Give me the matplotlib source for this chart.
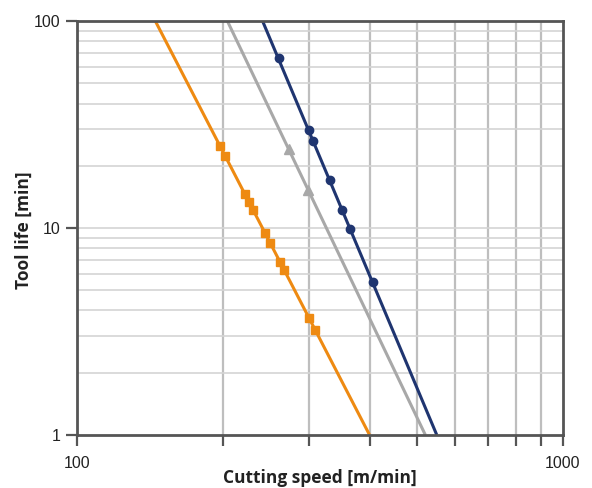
import matplotlib
matplotlib.use("Agg")
import matplotlib.pyplot as plt
from matplotlib.ticker import FixedLocator, NullFormatter, FixedFormatter

# Data
orange_speed = [197, 202, 222, 226, 230, 244, 250, 262, 267, 300, 309]
orange_life = [24.9, 22.3, 14.6, 13.4, 12.2, 9.46, 8.47, 6.85, 6.27, 3.67, 3.22]
orange_fit_speed = [145, 400]
orange_fit_life = [100, 1]

navy_speed = [260, 300, 306, 331, 351, 365, 406]
navy_life = [66.3, 29.7, 26.3, 17.1, 12.2, 9.9, 5.48]
navy_fit_speed = [241, 550]
navy_fit_life = [100, 1]

gray_speed = [273, 299]
gray_life = [24.1, 15.3]
gray_fit_speed = [204, 521]
gray_fit_life = [100, 1]

x_major = [100, 1000]
x_minor = [200, 300, 400, 500, 600, 700, 800, 900]
y_major = [1, 10, 100]
y_minor = [2, 3, 4, 5, 6, 7, 8, 9, 20, 30, 40, 50, 60, 70, 80, 90]

ORANGE = "#EE8A12"
NAVY = "#1F3570"
GRAY = "#A8A8A8"
SPINE = "#555555"

plt.rcParams['font.family'] = ['Open Sans', 'DejaVu Sans']

fig = plt.figure(figsize=(5.92, 4.88), dpi=100)
ax = fig.add_axes([0.130, 0.1086, 0.821, 0.848])
ax.set_xscale('log')
ax.set_yscale('log')
ax.set_xlim(100, 1000)
ax.set_ylim(1, 100)

# grid
for v in x_minor:
    ax.axvline(v, color="#BEBEBE", lw=1.6, zorder=1)
for v in y_minor:
    ax.axhline(v, color="#D4D4D4", lw=1.2, zorder=1)
ax.axhline(10, color="#D4D4D4", lw=1.2, zorder=1)

# lines
ax.plot(orange_fit_speed, orange_fit_life, color=ORANGE, lw=2.2, zorder=3, solid_capstyle='butt')
ax.plot(orange_speed, orange_life, ls='none', marker='s', ms=5.5, color=ORANGE, zorder=4)
ax.plot(gray_fit_speed, gray_fit_life, color=GRAY, lw=2.2, zorder=3, solid_capstyle='butt')
ax.plot(gray_speed, gray_life, ls='none', marker='^', ms=6.5, color=GRAY, zorder=4)
ax.plot(navy_fit_speed, navy_fit_life, color=NAVY, lw=2.2, zorder=3, solid_capstyle='butt')
ax.plot(navy_speed, navy_life, ls='none', marker='o', ms=6, color=NAVY, zorder=4)

# ticks
ax.xaxis.set_major_locator(FixedLocator(x_major))
ax.xaxis.set_major_formatter(FixedFormatter([str(v) for v in x_major]))
ax.xaxis.set_minor_locator(FixedLocator(x_minor))
ax.xaxis.set_minor_formatter(NullFormatter())
ax.yaxis.set_major_locator(FixedLocator(y_major))
ax.yaxis.set_major_formatter(FixedFormatter([str(v) for v in y_major]))
ax.yaxis.set_minor_locator(FixedLocator([]))

ax.tick_params(axis='both', which='both', direction='out', length=8, width=1.6,
               color=SPINE, labelcolor="#222222", pad=4)
ax.tick_params(axis='x', which='major', pad=7)
for lab in ax.get_xticklabels() + ax.get_yticklabels():
    lab.set_fontfamily(['Liberation Sans', 'DejaVu Sans'])
    lab.set_fontsize(11.5)

for s in ax.spines.values():
    s.set_color(SPINE)
    s.set_linewidth(2)
    s.set_zorder(5)

ax.set_xlabel("Cutting speed [m/min]", fontsize=12.5, fontweight='bold', color="#222222")
ax.xaxis.set_label_coords(0.5, -0.0, transform=fig.transFigure)
ax.xaxis.label.set_position((0.54, 0.003))
ax.xaxis.label.set_verticalalignment('bottom')
ax.set_ylabel("Tool life [min]", fontsize=12.5, fontweight='bold', color="#222222")
ax.yaxis.set_label_coords(-0.09, 0.495)

fig.savefig("out.png", dpi=100, facecolor='white')
